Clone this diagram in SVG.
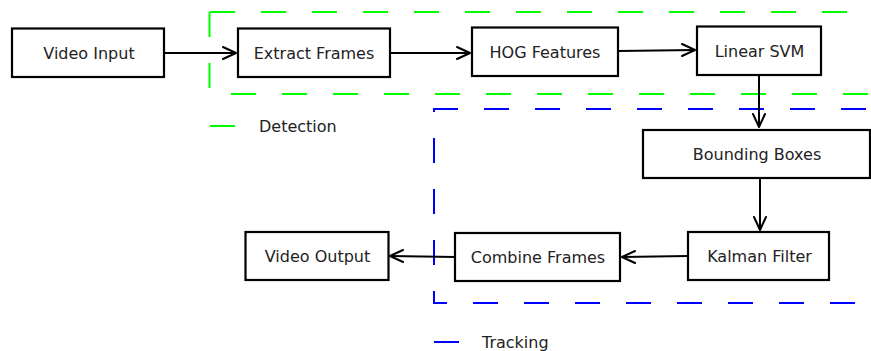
<svg xmlns="http://www.w3.org/2000/svg" width="871" height="351" viewBox="0 0 871 351">
<style>
.box{fill:#fff;stroke:#000;stroke-width:2.2}
.lbl{font-family:"DejaVu Sans",sans-serif;font-size:16px;fill:#222;text-anchor:middle}
.leg{font-family:"DejaVu Sans",sans-serif;font-size:16px;fill:#222}
.g{stroke:#00ff00;stroke-width:2;fill:none}
.b{stroke:#0000ff;stroke-width:2;fill:none}
.dash{stroke-dasharray:25 26}
.conn{stroke:#000;stroke-width:2;fill:none}
.head{stroke:#000;stroke-width:2;fill:none;stroke-linecap:round;stroke-linejoin:round}
</style>
<rect width="871" height="351" fill="#fff"/>
<g id="clusters">
<g id="detection-cluster">
<line class="g dash" x1="210" y1="12" x2="880" y2="12"/>
<line class="g dash" x1="209.5" y1="12" x2="209.5" y2="94"/>
<line class="g dash" x1="231" y1="94" x2="880" y2="94"/>
</g>
<g id="tracking-cluster">
<line class="b dash" x1="433" y1="109" x2="880" y2="109"/>
<line class="b" x1="434" y1="109" x2="434" y2="112"/>
<line class="b dash" x1="434" y1="138" x2="434" y2="303"/>
<line class="b" x1="433" y1="303" x2="447" y2="303"/>
<line class="b dash" x1="473" y1="303" x2="880" y2="303"/>
</g>
</g>
<g id="legend">
<line class="g" x1="210" y1="126" x2="235" y2="126"/>
<text class="leg" x="259" y="132">Detection</text>
<line class="b" x1="434" y1="342" x2="459" y2="342"/>
<text class="leg" x="482" y="348">Tracking</text>
</g>
<g id="connectors">
<line class="conn" x1="164" y1="53" x2="236" y2="53"/>
<polyline class="head" points="223,47 236,53 223,59"/>
<line class="conn" x1="390" y1="53" x2="470" y2="53"/>
<polyline class="head" points="457,47 470,53 457,59"/>
<line class="conn" x1="618" y1="51" x2="695" y2="50"/>
<polyline class="head" points="682,44 695,50 682,56"/>
<line class="conn" x1="759" y1="75" x2="759" y2="127"/>
<polyline class="head" points="753,114 759,127 765,114"/>
<line class="conn" x1="760" y1="178" x2="760" y2="230"/>
<polyline class="head" points="754,217 760,230 766,217"/>
<line class="conn" x1="688" y1="256" x2="622" y2="257"/>
<polyline class="head" points="635,251 622,257 635,263"/>
<line class="conn" x1="455" y1="257" x2="390" y2="256"/>
<polyline class="head" points="403,250 390,256 403,262"/>
</g>
<g id="video-input"><rect class="box" x="12" y="28.5" width="152" height="48.5"/><text class="lbl" x="89" y="59">Video Input</text></g>
<g id="extract-frames"><rect class="box" x="238" y="28.5" width="152" height="48.5"/><text class="lbl" x="314" y="59">Extract Frames</text></g>
<g id="hog-features"><rect class="box" x="472" y="27.5" width="146" height="48.5"/><text class="lbl" x="545" y="57.5">HOG Features</text></g>
<g id="linear-svm"><rect class="box" x="697" y="26.5" width="124" height="48.5"/><text class="lbl" x="759.5" y="56.5">Linear SVM</text></g>
<g id="bounding-boxes"><rect class="box" x="643" y="130" width="227" height="48"/><text class="lbl" x="757" y="159.5">Bounding Boxes</text></g>
<g id="kalman-filter"><rect class="box" x="688" y="232" width="141" height="48"/><text class="lbl" x="759.5" y="261.5">Kalman Filter</text></g>
<g id="combine-frames"><rect class="box" x="455" y="233" width="165" height="48"/><text class="lbl" x="538" y="263">Combine Frames</text></g>
<g id="video-output"><rect class="box" x="245.5" y="232" width="143" height="48"/><text class="lbl" x="317.5" y="261.5">Video Output</text></g>
</svg>
